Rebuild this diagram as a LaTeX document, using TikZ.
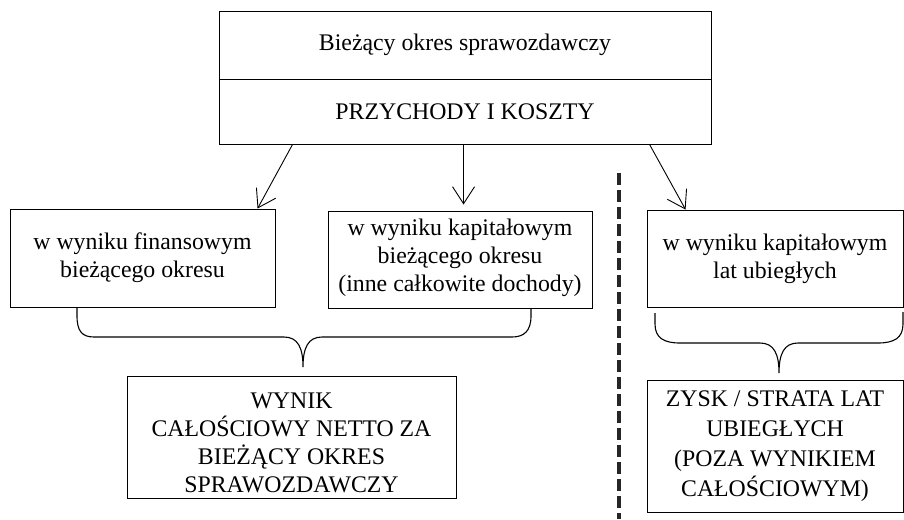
\documentclass[tikz,border=0pt]{standalone}
\usepackage{fontspec}
\setmainfont{Liberation Serif}
\usetikzlibrary{arrows.meta,calc}
\begin{document}
\begin{tikzpicture}[x=1pt,y=-1pt,
  box/.style={draw, line width=0.9pt, inner sep=0pt, align=center,
    font=\fontsize{23.8}{28}\selectfont},
  arr/.style={line width=0.9pt, -{Straight Barb[length=17pt,width=22pt,line width=0.9pt]}},
  brace/.style={line width=1.1pt},
  divider/.style={line width=3.8pt, black!85, dash pattern=on 12pt off 5pt}]
\useasboundingbox (0,0) rectangle (904,519);

% top block
\node[box, minimum width=492pt, minimum height=68pt] (top) at (465,45)
  {Bieżący okres sprawozdawczy};
\node[box, minimum width=492pt, minimum height=65pt] (pk) at (465,111.5)
  {PRZYCHODY I KOSZTY};

% middle row
\node[box, minimum width=265pt, minimum height=98pt] (fin) at (142.5,258)
  {w wyniku finansowym\\bieżącego okresu};
\node[box, minimum width=264pt, minimum height=97pt] (kap) at (460,259.5)
  {w wyniku kapitałowym\\bieżącego okresu\\(inne całkowite dochody)\rule[-8pt]{0pt}{8pt}};
\node[box, minimum width=256pt, minimum height=97pt] (lat) at (775,258.5)
  {w wyniku kapitałowym\\lat ubiegłych};

% bottom row
\node[box, minimum width=329pt, minimum height=122pt] (wyn) at (291.5,437)
  {\rule{0pt}{27pt}WYNIK\\CAŁOŚCIOWY NETTO ZA\\BIEŻĄCY OKRES\\SPRAWOZDAWCZY};
\node[box, minimum width=256pt, minimum height=132pt,
  font=\fontsize{23.8}{30}\selectfont] (zys) at (775,446)
  {ZYSK / STRATA LAT\\UBIEGŁYCH\\(POZA WYNIKIEM\\CAŁOŚCIOWYM)};

% arrows from the revenue/cost box
\draw[arr] ($(pk.south west)+(74,0)$) -- ($(fin.north west)+(248,0)$);
\draw[arr] ($(pk.south west)+(245,0)$) -- ($(kap.north west)+(136,-6)$);
\draw[arr] ($(pk.south west)+(431,0)$) -- ($(lat.north west)+(39,0)$);

% dividing line between current and prior periods
\coordinate (d1) at (619,173);
\coordinate (d2) at (619,519);
\draw[divider] (d1) -- (d2);

% brace joining the two current-period results
\draw[brace] (77,308) -- (77,316) .. controls (77,331) and (82,337) .. (94,337)
  -- (284,337) .. controls (298,337) and (303,348) .. (303,367)
  .. controls (303,348) and (308,337) .. (322,337)
  -- (512,337) .. controls (524,337) and (531,331) .. (531,316) -- (531,308);

% brace under the prior-years result
\draw[brace] (655,313) -- (655,324) .. controls (655,338) and (664,343) .. (680,343)
  -- (760,343) .. controls (774,343) and (779,354) .. (779,373)
  .. controls (779,354) and (784,343) .. (798,343)
  -- (878,343) .. controls (894,343) and (903,338) .. (903,324) -- (903,312);
\end{tikzpicture}
\end{document}
